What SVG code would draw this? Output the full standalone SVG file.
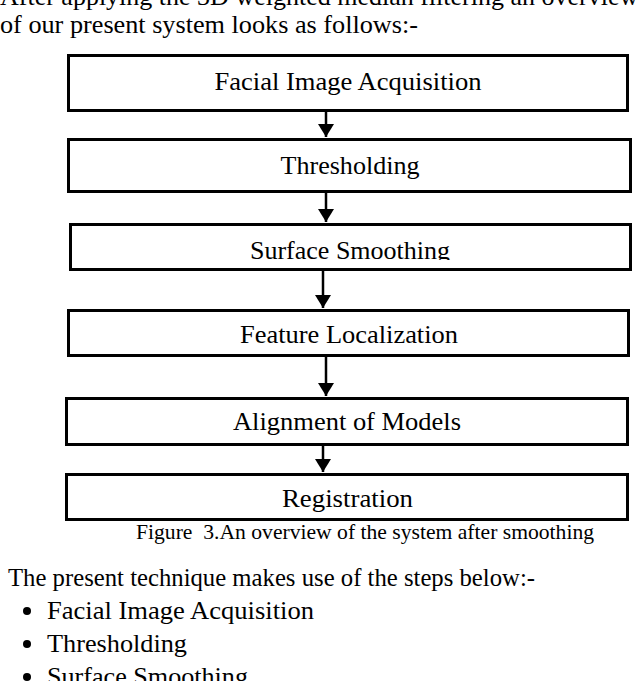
<svg xmlns="http://www.w3.org/2000/svg" width="640" height="681" viewBox="0 0 640 681">
<style>
.bx{fill:#fff;stroke:#000;stroke-width:3}
.t{font-family:"Liberation Serif","Times New Roman",serif;fill:#000}
.lbl{font-size:26px;text-anchor:middle}
.body{font-size:26px}
.cap{font-size:21px;text-anchor:middle;white-space:pre}
.cn{stroke:#000;stroke-width:2.5;fill:none}
</style>
<defs>
<marker id="ah" viewBox="0 0 13 16" refX="13" refY="8" markerWidth="13" markerHeight="16" markerUnits="userSpaceOnUse" orient="auto">
<path d="M0,0 L13,8 L0,16 z" fill="#000"/>
</marker>
<clipPath id="clip3"><rect x="60" y="220" width="580" height="40"/></clipPath>
</defs>
<rect width="640" height="681" fill="#fff"/>
<g id="intro">
<text class="t body" x="0" y="5">After applying the 3D weighted median filtering an overview</text>
<text class="t body" x="0" y="33" textLength="418" lengthAdjust="spacingAndGlyphs">of our present system looks as follows:-</text>
</g>
<g id="connectors">
<line class="cn" x1="326" y1="112" x2="326" y2="137" marker-end="url(#ah)"/>
<line class="cn" x1="326" y1="193" x2="326" y2="222" marker-end="url(#ah)"/>
<line class="cn" x1="323" y1="271" x2="323" y2="308" marker-end="url(#ah)"/>
<line class="cn" x1="326" y1="357" x2="326" y2="396" marker-end="url(#ah)"/>
<line class="cn" x1="323" y1="446" x2="323" y2="472" marker-end="url(#ah)"/>
</g>
<g id="n1">
<rect class="bx" x="68.5" y="55.5" width="559" height="55"/>
<text class="t lbl" x="348" y="90" textLength="267" lengthAdjust="spacingAndGlyphs">Facial Image Acquisition</text>
</g>
<g id="n2">
<rect class="bx" x="68.5" y="139.5" width="562" height="52"/>
<text class="t lbl" x="350" y="174" textLength="139" lengthAdjust="spacingAndGlyphs">Thresholding</text>
</g>
<g id="n3">
<rect class="bx" x="70.5" y="224.5" width="560" height="45"/>
<text class="t lbl" x="350" y="259" clip-path="url(#clip3)" textLength="200" lengthAdjust="spacingAndGlyphs">Surface Smoothing</text>
</g>
<g id="n4">
<rect class="bx" x="68.5" y="310.5" width="560" height="45"/>
<text class="t lbl" x="349" y="343" textLength="218" lengthAdjust="spacingAndGlyphs">Feature Localization</text>
</g>
<g id="n5">
<rect class="bx" x="66.5" y="398.5" width="561" height="46"/>
<text class="t lbl" x="347" y="430" textLength="228" lengthAdjust="spacingAndGlyphs">Alignment of Models</text>
</g>
<g id="n6">
<rect class="bx" x="66.5" y="474.5" width="561" height="45"/>
<text class="t lbl" x="347.5" y="507" textLength="131" lengthAdjust="spacingAndGlyphs">Registration</text>
</g>
<g id="caption">
<text class="t cap" x="365" y="539" xml:space="preserve" textLength="458" lengthAdjust="spacingAndGlyphs">Figure  3.An overview of the system after smoothing</text>
</g>
<g id="steps">
<text class="t body" x="8" y="586" textLength="527" lengthAdjust="spacingAndGlyphs">The present technique makes use of the steps below:-</text>
<circle cx="27" cy="611" r="4" fill="#000"/>
<text class="t body" x="47" y="619" textLength="267" lengthAdjust="spacingAndGlyphs">Facial Image Acquisition</text>
<circle cx="27" cy="644" r="4" fill="#000"/>
<text class="t body" x="47" y="652" textLength="140" lengthAdjust="spacingAndGlyphs">Thresholding</text>
<circle cx="27" cy="677" r="4" fill="#000"/>
<text class="t body" x="47" y="685" textLength="201" lengthAdjust="spacingAndGlyphs">Surface Smoothing</text>
</g>
</svg>
